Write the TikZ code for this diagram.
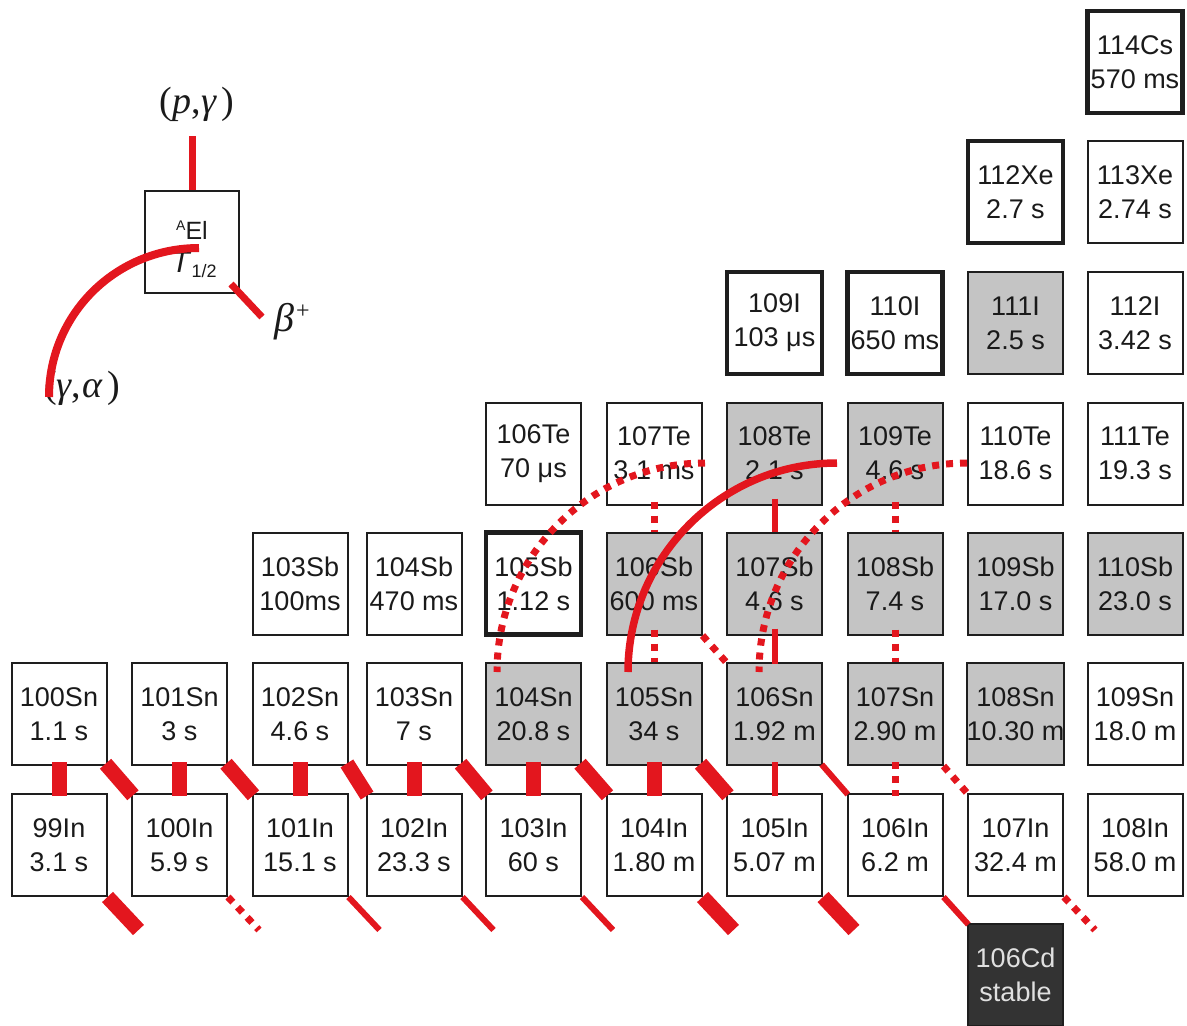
\documentclass[tikz,border=0pt]{standalone}
\usepackage{fontspec}
\setmainfont{Liberation Sans}
\newfontfamily\serifgr{Liberation Serif}
\usetikzlibrary{calc}
\definecolor{rd}{HTML}{E3161E}
\definecolor{gr}{HTML}{C4C4C4}
\definecolor{dk}{HTML}{333333}
\definecolor{bd}{HTML}{1E1E1E}
\definecolor{tx}{HTML}{1A1A1A}
\begin{document}
\begin{tikzpicture}[x=1pt,y=-1pt,
  nuc/.style={draw=bd, line width=2pt, rectangle, minimum width=95pt, minimum height=102pt,
    inner sep=0pt, align=center, text=tx, font=\fontsize{27}{34}\selectfont},
  thk/.style={line width=4.5pt},
  gry/.style={fill=gr},
  stab/.style={fill=dk, text=black!12},
  thickbar/.style={draw=rd, line width=15pt},
  thinbar/.style={draw=rd, line width=6pt},
  dotbar/.style={draw=rd, line width=7pt, dash pattern=on 7pt off 7pt},
  arcline/.style={draw=rd, line width=7.5pt},
  legline/.style={draw=rd, line width=7pt},
  lbl/.style={inner sep=0pt, text=tx}
]
\useasboundingbox (0,0) rectangle (1187,1026);
\def\cA{59}\def\cB{179.5}\def\cC{300}\def\cD{414}\def\cE{533.5}
\def\cF{654}\def\cG{774.5}\def\cH{895}\def\cI{1015.5}\def\cJ{1135}
\def\rCs{62}\def\rXe{192}\def\rI{323}\def\rTe{453.5}\def\rSb{583.5}
\def\rSn{714}\def\rIn{845}\def\rCd{975}

% Cs, Xe
\node[nuc,thk] (Cs114) at (\cJ,\rCs) {114Cs\\570 ms};
\node[nuc,thk] (Xe112) at (\cI,\rXe) {112Xe\\2.7 s};
\node[nuc] (Xe113) at (\cJ,\rXe) {113Xe\\2.74 s};
% I
\node[nuc,thk] (I109) at (\cG,\rI) {109I\\103 μs};
\node[nuc,thk] (I110) at (\cH,\rI) {110I\\650 ms};
\node[nuc,gry] (I111) at (\cI,\rI) {111I\\2.5 s};
\node[nuc] (I112) at (\cJ,\rI) {112I\\3.42 s};
% Te
\node[nuc] (Te106) at (\cE,\rTe) {106Te\\70 μs};
\node[nuc] (Te107) at (\cF,\rTe) {107Te\\3.1 ms};
\node[nuc,gry] (Te108) at (\cG,\rTe) {108Te\\2.1 s};
\node[nuc,gry] (Te109) at (\cH,\rTe) {109Te\\4.6 s};
\node[nuc] (Te110) at (\cI,\rTe) {110Te\\18.6 s};
\node[nuc] (Te111) at (\cJ,\rTe) {111Te\\19.3 s};
% Sb
\node[nuc] (Sb103) at (\cC,\rSb) {103Sb\\100ms};
\node[nuc] (Sb104) at (\cD,\rSb) {104Sb\\470 ms};
\node[nuc,thk] (Sb105) at (\cE,\rSb) {105Sb\\1.12 s};
\node[nuc,gry] (Sb106) at (\cF,\rSb) {106Sb\\600 ms};
\node[nuc,gry] (Sb107) at (\cG,\rSb) {107Sb\\4.6 s};
\node[nuc,gry] (Sb108) at (\cH,\rSb) {108Sb\\7.4 s};
\node[nuc,gry] (Sb109) at (\cI,\rSb) {109Sb\\17.0 s};
\node[nuc,gry] (Sb110) at (\cJ,\rSb) {110Sb\\23.0 s};
% Sn
\node[nuc] (Sn100) at (\cA,\rSn) {100Sn\\1.1 s};
\node[nuc] (Sn101) at (\cB,\rSn) {101Sn\\3 s};
\node[nuc] (Sn102) at (\cC,\rSn) {102Sn\\4.6 s};
\node[nuc] (Sn103) at (\cD,\rSn) {103Sn\\7 s};
\node[nuc,gry] (Sn104) at (\cE,\rSn) {104Sn\\20.8 s};
\node[nuc,gry] (Sn105) at (\cF,\rSn) {105Sn\\34 s};
\node[nuc,gry] (Sn106) at (\cG,\rSn) {106Sn\\1.92 m};
\node[nuc,gry] (Sn107) at (\cH,\rSn) {107Sn\\2.90 m};
\node[nuc,gry] (Sn108) at (\cI,\rSn) {108Sn\\10.30 m};
\node[nuc] (Sn109) at (\cJ,\rSn) {109Sn\\18.0 m};
% In
\node[nuc] (In99) at (\cA,\rIn) {99In\\3.1 s};
\node[nuc] (In100) at (\cB,\rIn) {100In\\5.9 s};
\node[nuc] (In101) at (\cC,\rIn) {101In\\15.1 s};
\node[nuc] (In102) at (\cD,\rIn) {102In\\23.3 s};
\node[nuc] (In103) at (\cE,\rIn) {103In\\60 s};
\node[nuc] (In104) at (\cF,\rIn) {104In\\1.80 m};
\node[nuc] (In105) at (\cG,\rIn) {105In\\5.07 m};
\node[nuc] (In106) at (\cH,\rIn) {106In\\6.2 m};
\node[nuc] (In107) at (\cI,\rIn) {107In\\32.4 m};
\node[nuc] (In108) at (\cJ,\rIn) {108In\\58.0 m};
% Cd
\node[nuc,stab] (Cd106) at (\cI,\rCd) {106Cd\\stable};

% Sn -> In vertical
\draw[thickbar, shorten <=-4pt, shorten >=-3pt] (Sn100.south) -- (In99.north);
\draw[thickbar, shorten <=-4pt, shorten >=-3pt] (Sn101.south) -- (In100.north);
\draw[thickbar, shorten <=-4pt, shorten >=-3pt] (Sn102.south) -- (In101.north);
\draw[thickbar, shorten <=-4pt, shorten >=-3pt] (Sn103.south) -- (In102.north);
\draw[thickbar, shorten <=-4pt, shorten >=-3pt] (Sn104.south) -- (In103.north);
\draw[thickbar, shorten <=-4pt, shorten >=-3pt] (Sn105.south) -- (In104.north);
\draw[thinbar, shorten <=-4pt, shorten >=-3pt] (Sn106.south) -- (In105.north);
\draw[dotbar, shorten <=-4pt, shorten >=-3pt] (Sn107.south) -- (In106.north);
% Sn -> In diagonal
\draw[thickbar, shorten <=-3pt, shorten >=-3pt] (Sn100.south east) -- (In100.north west);
\draw[thickbar, shorten <=-3pt, shorten >=-3pt] (Sn101.south east) -- (In101.north west);
\draw[thickbar, shorten <=-3pt, shorten >=-3pt] (Sn102.south east) -- (In102.north west);
\draw[thickbar, shorten <=-3pt, shorten >=-3pt] (Sn103.south east) -- (In103.north west);
\draw[thickbar, shorten <=-3pt, shorten >=-3pt] (Sn104.south east) -- (In104.north west);
\draw[thickbar, shorten <=-3pt, shorten >=-3pt] (Sn105.south east) -- (In105.north west);
\draw[thinbar, shorten <=-2pt, shorten >=-2pt] (Sn106.south east) -- (In106.north west);
\draw[dotbar] (Sn107.south east) -- (In107.north west);
% In -> Cd
\coordinate (d99) at ($(In99.south east)+(31,33)$);
\coordinate (d100) at ($(In100.south east)+(31,33)$);
\coordinate (d101) at ($(In101.south east)+(31,33)$);
\coordinate (d102) at ($(In102.south east)+(31,33)$);
\coordinate (d103) at ($(In103.south east)+(31,33)$);
\coordinate (d104) at ($(In104.south east)+(31,33)$);
\coordinate (d105) at ($(In105.south east)+(31,33)$);
\coordinate (d107) at ($(In107.south east)+(31,33)$);
\draw[thickbar] (In99.south east) -- (d99);
\draw[dotbar] (In100.south east) -- (d100);
\draw[thinbar] (In101.south east) -- (d101);
\draw[thinbar] (In102.south east) -- (d102);
\draw[thinbar] (In103.south east) -- (d103);
\draw[thickbar] (In104.south east) -- (d104);
\draw[thickbar] (In105.south east) -- (d105);
\draw[thinbar, shorten >=-2pt] (In106.south east) -- (Cd106.north west);
\draw[dotbar] (In107.south east) -- (d107);
% Te -> Sb, Sb -> Sn
\draw[dotbar, shorten <=-4pt] (Te107.south) -- (Sb106.north);
\draw[thinbar, shorten <=-7pt] (Te108.south) -- (Sb107.north);
\draw[dotbar, shorten <=-4pt] (Te109.south) -- (Sb108.north);
\draw[dotbar, shorten <=-6pt] (Sb106.south) -- (Sn105.north);
\draw[dotbar] (Sb106.south east) -- (Sn106.north west);
\draw[thinbar, shorten <=-7pt, shorten >=-2pt] (Sb107.south) -- (Sn106.north);
\draw[dotbar, shorten <=-6pt] (Sb108.south) -- (Sn107.north);
% (gamma,alpha) arcs
\coordinate (a1s) at (705,463); \coordinate (a1e) at (497,672);
\coordinate (a2s) at (837,463); \coordinate (a2e) at (628,672);
\coordinate (a3s) at (967,463); \coordinate (a3e) at (759,672);
\draw[dotbar] (a1s) .. controls (590,463) and (497,557) .. (a1e);
\draw[arcline] (a2s) .. controls (722,463) and (628,557) .. (a2e);
\draw[dotbar] (a3s) .. controls (852,463) and (759,557) .. (a3e);

% legend
\node[draw=bd, line width=2pt, minimum width=94pt, minimum height=102pt, inner sep=0pt] (leg) at (192,242) {};
\node[lbl, font=\fontsize{25}{25}\selectfont] (legA) at (192,230) {\raisebox{9pt}{\fontsize{14}{14}\selectfont A}El};
\node[lbl, font=\fontsize{30}{30}\selectfont] (legT) at (194,265) {\textit{T}\raisebox{-5pt}{\fontsize{18}{18}\selectfont 1/2}};
\coordinate (pge) at (192,136);
\draw[legline] (leg.north) -- (pge);
\node[lbl, font=\serifgr\fontsize{38}{38}\selectfont] (pgt) at (197,104) {(\textit{p},\kern1pt\textit{γ}\kern4pt)};
\coordinate (bpe) at (262,317);
\draw[legline] ($(leg.south east)+(-9,-10)$) -- (bpe);
\node[lbl, font=\serifgr\fontsize{40}{40}\selectfont] (bpt) at (292,322) {\textit{β}\kern2pt\raisebox{13pt}{\fontsize{24}{24}\selectfont +}};
\node[lbl, font=\serifgr\fontsize{38}{38}\selectfont] (gat) at (82,388) {(\textit{γ},\kern1pt\textit{α}\kern4pt)};
\coordinate (las) at (199,248); \coordinate (lae) at (49,397);
\draw[draw=rd, line width=8pt] (las) .. controls (116,248) and (49,314) .. (lae);
\end{tikzpicture}
\end{document}
